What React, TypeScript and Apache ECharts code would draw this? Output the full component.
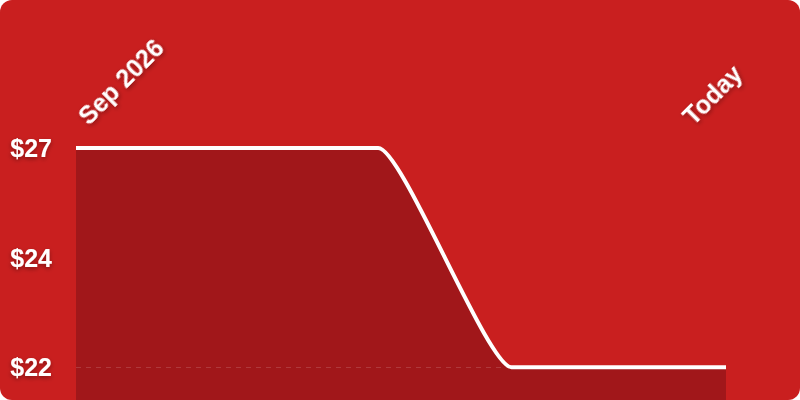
import React from 'react';
import * as echarts from 'echarts';

// x positions are on a 0..100 scale from the left end of the plot to the right end
const xPositions = [0, 46.5, 67, 100];
const prices = [27, 27, 22, 22];

const xTickValues = [1, 94];
const xTickLabels = ['Sep 2026', 'Today'];

const yTickValues = [22, 24.5, 27];
const yTickLabels = ['$22', '$24', '$27'];

const floorPrice = 22;

const FONT = '"Liberation Sans", Arial, Helvetica, sans-serif';

const labelShadow = {
  textShadowColor: 'rgba(0,0,0,0.35)',
  textShadowBlur: 4,
  textShadowOffsetY: 2,
};

const App: React.FC = () => {
  const chartRef = React.useRef<HTMLDivElement>(null);

  React.useEffect(() => {
    if (!chartRef.current) return;
    const chart = echarts.init(chartRef.current, undefined, { renderer: 'svg' });
    chart.setOption({
      animation: false,
      backgroundColor: 'transparent',
      grid: {
        left: 76,
        right: 74,
        top: 148,
        bottom: -11,
        containLabel: false,
        outerBoundsMode: 'none',
      },
      xAxis: {
        type: 'value',
        position: 'top',
        min: 0,
        max: 100,
        axisLine: { show: false },
        axisTick: { show: false },
        splitLine: { show: false },
        axisLabel: {
          customValues: xTickValues,
          rotate: -45,
          margin: 28,
          color: '#fff',
          fontSize: 25,
          fontWeight: 'bold',
          fontFamily: FONT,
          ...labelShadow,
          formatter: (v: number) => xTickLabels[xTickValues.indexOf(v)] ?? '',
        },
      },
      yAxis: {
        type: 'value',
        min: 21,
        max: 27,
        axisLine: { show: false },
        axisTick: { show: false },
        splitLine: { show: false },
        axisLabel: {
          customValues: yTickValues,
          margin: 24,
          color: '#fff',
          fontSize: 25,
          fontWeight: 'bold',
          fontFamily: FONT,
          ...labelShadow,
          formatter: (v: number) => yTickLabels[yTickValues.indexOf(v)] ?? '',
        },
      },
      series: [
        {
          type: 'line',
          data: xPositions.map((x, i) => [x, prices[i]]),
          smooth: 0.18,
          smoothMonotone: 'x',
          symbol: 'none',
          lineStyle: { color: '#ffffff', width: 4 },
          areaStyle: { color: '#A1171A', opacity: 1 },
          markLine: {
            silent: true,
            symbol: 'none',
            label: { show: false },
            lineStyle: { color: 'rgba(255,255,255,0.15)', width: 1, type: [5, 5] },
            data: [{ yAxis: floorPrice }],
          },
        },
      ],
    });
    return () => chart.dispose();
  }, []);

  return (
    <div
      style={{
        position: 'fixed',
        left: 0,
        top: 0,
        width: 800,
        height: 400,
        background: '#C91F1F',
        borderRadius: 12,
        overflow: 'hidden',
      }}
    >
      <div ref={chartRef} style={{ width: 800, height: 400 }} />
    </div>
  );
};

export default App;
